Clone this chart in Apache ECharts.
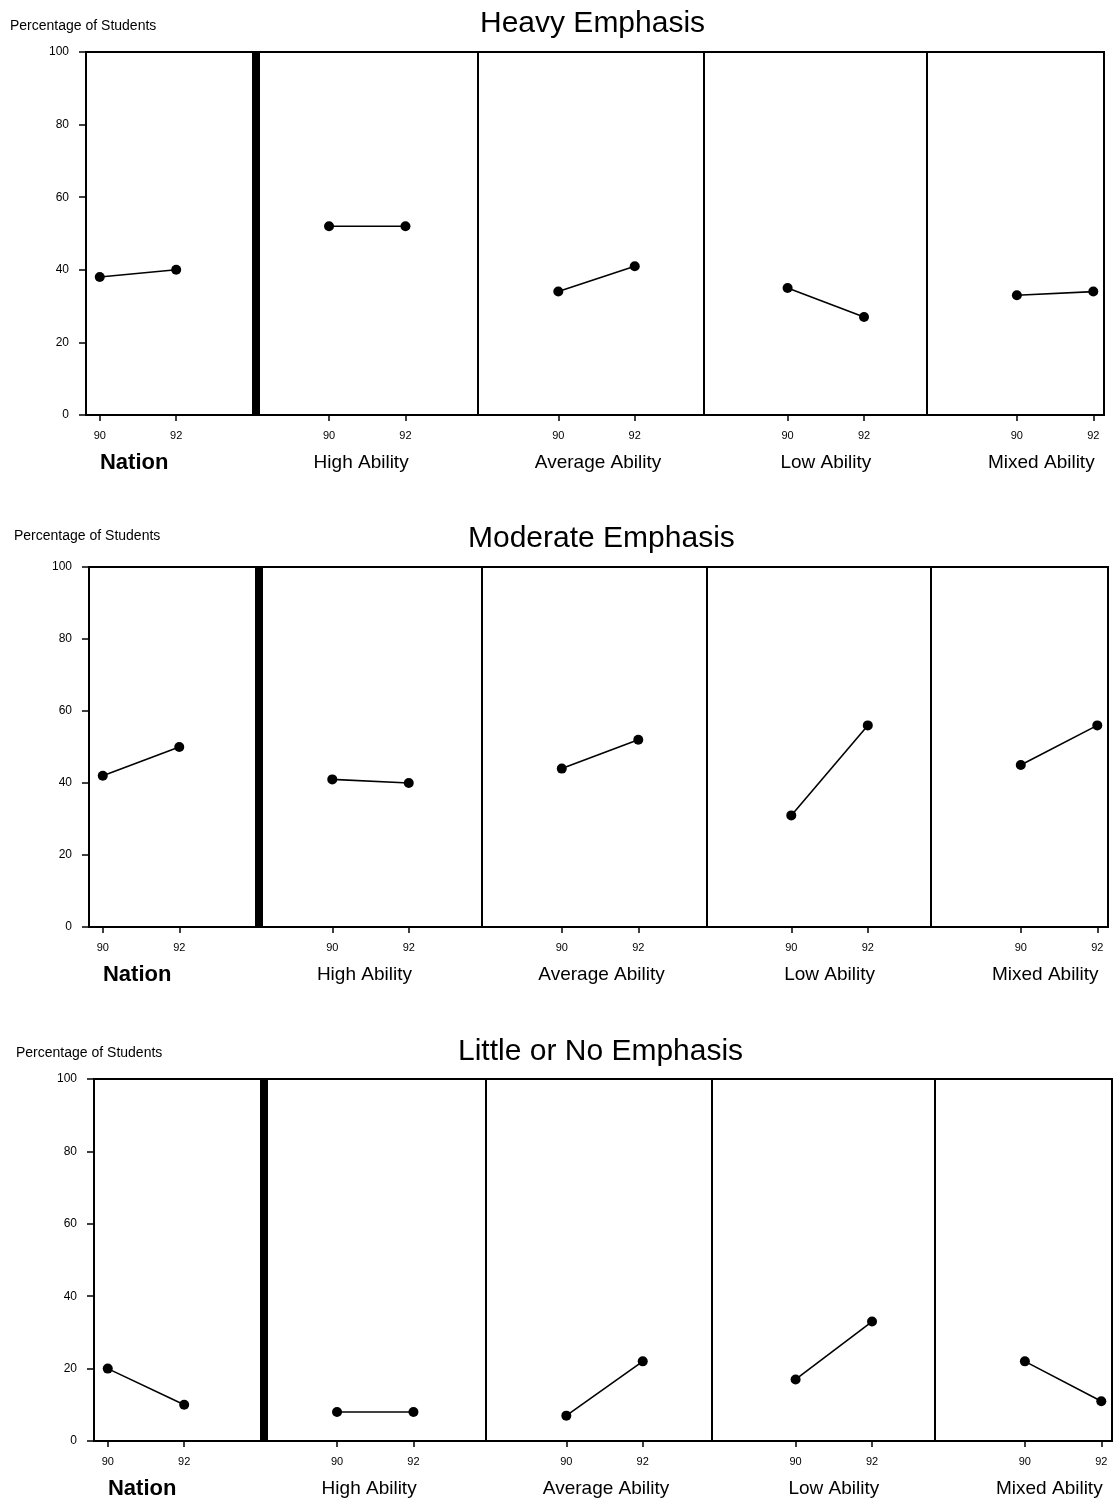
<!DOCTYPE html>
<html>
<head>
<meta charset="utf-8">
<script src="https://cdn.jsdelivr.net/npm/echarts@6/dist/echarts.min.js"></script>
<style>
  html, body { margin: 0; padding: 0; background: #fff; }
  #chart { width: 1116px; height: 1509px; }
</style>
</head>
<body>
<div id="chart"></div>
<script>
// ---------- data ----------
const groups = ['Nation', 'High Ability', 'Average Ability', 'Low Ability', 'Mixed Ability'];
const years = ['90', '92'];
const panelTitles = ['Heavy Emphasis', 'Moderate Emphasis', 'Little or No Emphasis'];
const yAxisTitle = 'Percentage of Students';
const yTicks = [0, 20, 40, 60, 80, 100];
// values per group: [1990, 1992]
const heavy    = [[38, 40], [52, 52], [34, 41], [35, 27], [33, 34]];
const moderate = [[42, 50], [41, 40], [44, 52], [31, 56], [45, 56]];
const little   = [[20, 10], [8, 8],   [7, 22],  [17, 33], [22, 11]];
const panelValues = [heavy, moderate, little];

// ---------- layout (not data) ----------
const gridsPx = [
  { left: 86, top: 52, width: 1018, height: 363 },
  { left: 89, top: 567, width: 1019, height: 360 },
  { left: 94, top: 1079, width: 1018, height: 362 }
];
const titleLeft = [480, 468, 458];
const titleTop = [9, 524, 1037];
const yTitleLeft = [10, 14, 16];
const yTitleTop = [19, 529, 1046];
const xMin = -0.18, xMax = 13.14;
const separators = [2.04, 4.95, 7.9, 10.82];
const labelSlots = [0.45, 3.42, 6.52, 9.5, 12.32];
const slot = (g, y) => 3 * g + y;
const tickSlots = [];
groups.forEach((g, i) => years.forEach((yr, j) => tickSlots.push(slot(i, j))));

const FONT = '"Liberation Sans", Arial, Helvetica, sans-serif';

const option = {
  animation: false,
  backgroundColor: '#fff',
  title: [],
  grid: [],
  xAxis: [],
  yAxis: [],
  series: []
};

panelTitles.forEach((t, k) => {
  option.title.push({
    text: t, left: titleLeft[k], top: titleTop[k], padding: 0,
    textStyle: { fontFamily: FONT, fontSize: 30, fontWeight: 'normal', color: '#000' }
  });
  option.title.push({
    text: yAxisTitle, left: yTitleLeft[k], top: yTitleTop[k], padding: 0,
    textStyle: { fontFamily: FONT, fontSize: 14, fontWeight: 'normal', color: '#000' }
  });
  option.grid.push(Object.assign({
    show: true, borderColor: '#000', borderWidth: 2, backgroundColor: 'transparent'
  }, gridsPx[k]));

  // main x axis with year ticks
  option.xAxis.push({
    type: 'value', gridIndex: k, min: xMin, max: xMax, position: 'bottom',
    splitLine: { show: false },
    axisLine: { show: true, onZero: false, lineStyle: { color: '#000', width: 2 } },
    axisTick: { show: true, customValues: tickSlots, length: 6, lineStyle: { color: '#000', width: 1.5 } },
    axisLabel: {
      customValues: tickSlots, margin: 15, fontSize: 11, fontFamily: FONT, color: '#000',
      formatter: v => years[Math.round(v) % 3]
    }
  });
  // group label axis
  option.xAxis.push({
    type: 'value', gridIndex: k, min: xMin, max: xMax, position: 'bottom',
    splitLine: { show: false },
    axisLine: { show: false, onZero: false },
    axisTick: { show: false },
    axisLabel: {
      customValues: labelSlots, margin: 35, color: '#000', fontFamily: FONT,
      formatter: v => {
        let idx = 0, best = 1e9;
        labelSlots.forEach((s, i) => { if (Math.abs(s - v) < best) { best = Math.abs(s - v); idx = i; } });
        return idx === 0 ? '{b|' + groups[idx] + '}' : '{n|' + groups[idx] + '}';
      },
      rich: {
        b: { fontSize: 22, fontWeight: 'bold', lineHeight: 26, fontFamily: FONT, color: '#000' },
        n: { fontSize: 19, fontWeight: 'normal', lineHeight: 26, fontFamily: FONT, color: '#000' }
      }
    }
  });
  option.yAxis.push({
    type: 'value', gridIndex: k, min: yTicks[0], max: yTicks[yTicks.length - 1], interval: 20,
    position: 'left',
    splitLine: { show: false },
    axisLine: { show: true, onZero: false, lineStyle: { color: '#000', width: 2 } },
    axisTick: { show: true, length: 7, lineStyle: { color: '#000', width: 1.5 } },
    axisLabel: { fontSize: 12, margin: 17, fontFamily: FONT, color: '#000' }
  });

  panelValues[k].forEach((vals, i) => {
    const s = {
      type: 'line', name: groups[i],
      xAxisIndex: 2 * k, yAxisIndex: k,
      data: vals.map((v, j) => [slot(i, j), v]),
      symbol: 'circle', symbolSize: 10,
      itemStyle: { color: '#000' },
      lineStyle: { color: '#000', width: 1.6 },
      z: 5
    };
    if (i === 0) {
      s.markLine = {
        silent: true, symbol: ['none', 'none'], label: { show: false },
        lineStyle: { color: '#000', width: 2, type: 'solid' },
        data: separators.map((x, si) => si === 0
          ? { xAxis: x, lineStyle: { color: '#000', width: 8, type: 'solid' } }
          : { xAxis: x })
      };
    }
    option.series.push(s);
  });
});

const chart = echarts.init(document.getElementById('chart'), null, { renderer: 'canvas' });
chart.setOption(option);
</script>
</body>
</html>
